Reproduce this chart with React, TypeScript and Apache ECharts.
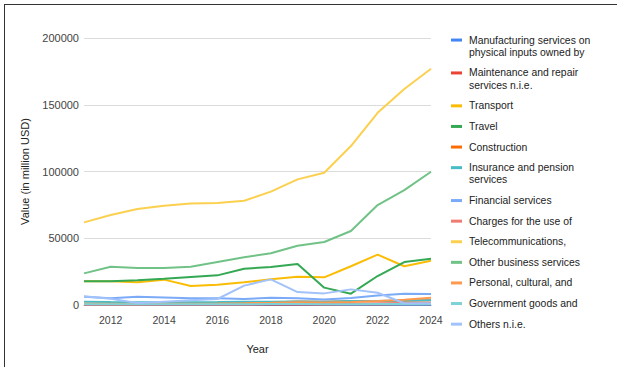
import React, { useEffect, useRef } from "react";
import * as echarts from "echarts";

const years = ["2011", "2012", "2013", "2014", "2015", "2016", "2017", "2018", "2019", "2020", "2021", "2022", "2023", "2024"];

const seriesNames = [
  "Manufacturing services on\nphysical inputs owned by",
  "Maintenance and repair\nservices n.i.e.",
  "Transport",
  "Travel",
  "Construction",
  "Insurance and pension\nservices",
  "Financial services",
  "Charges for the use of",
  "Telecommunications,",
  "Other business services",
  "Personal, cultural, and",
  "Government goods and",
  "Others n.i.e.",
];

const seriesColors = [
  "#4285F4", "#EA4335", "#FBBC04", "#34A853", "#FF6D01", "#46BDC6", "#7BAAF7",
  "#F07B72", "#FCD04F", "#71C287", "#FF994D", "#7ED1D7", "#A1C2FA",
];

const manufacturing = [200, 200, 200, 200, 200, 200, 200, 200, 200, 200, 200, 300, 300, 300];
const maintenance = [300, 300, 300, 300, 300, 300, 400, 400, 400, 400, 500, 600, 700, 800];
const transport = [17700, 17700, 17000, 19000, 14200, 15200, 17000, 19200, 21200, 20700, 29000, 37700, 29000, 33200];
const travel = [17700, 17700, 18500, 19700, 21000, 22200, 27200, 28500, 30700, 13000, 8500, 21700, 32200, 34700];
const construction = [800, 1000, 1100, 1200, 1300, 1300, 1500, 1800, 2600, 2400, 2800, 3000, 3200, 3500];
const insurance = [2500, 2200, 2100, 2000, 2100, 2200, 2400, 2500, 2600, 2400, 3000, 3000, 3300, 3500];
const financial = [6200, 5000, 6200, 5700, 5000, 5000, 4500, 5500, 5000, 4200, 5200, 7200, 8500, 8200];
const charges = [300, 300, 400, 500, 500, 500, 600, 800, 900, 1200, 1000, 1300, 1500, 1700];
const telecom = [61900, 67400, 71900, 74400, 76100, 76400, 78100, 84900, 94100, 99100, 119100, 144000, 161800, 177000];
const otherBusiness = [23700, 28700, 27700, 27700, 28700, 32200, 35700, 38700, 44400, 47200, 55400, 74900, 86100, 99800];
const personal = [1000, 900, 800, 900, 1000, 1100, 1300, 1600, 2000, 1800, 2300, 3000, 4000, 5500];
const government = [500, 500, 500, 600, 600, 600, 600, 700, 700, 600, 600, 700, 700, 800];
const others = [6500, 4700, 1500, 2500, 3500, 4500, 14500, 19200, 9700, 8700, 11700, 9200, 1300, 1300];

const seriesValues = [
  manufacturing, maintenance, transport, travel, construction, insurance, financial,
  charges, telecom, otherBusiness, personal, government, others,
];

const yTicks = { min: 0, max: 200000, interval: 50000 };

const FONT = "'Liberation Sans', Arial, sans-serif";

function buildLegend() {
  const elements: any[] = [];
  const lineH = 12.3;
  const gap = 8.3;
  let top = 33.9;
  seriesNames.forEach((name, i) => {
    const lines = name.split("\n").length;
    const cy = top + lineH / 2;
    elements.push({
      type: "rect",
      shape: { x: 451, y: cy - 1.5, width: 11, height: 3 },
      style: { fill: seriesColors[i] },
      silent: true,
    });
    elements.push({
      type: "text",
      x: 469,
      y: top,
      style: {
        text: name,
        fill: "#222",
        font: `10.4px ${FONT}`,
        lineHeight: lineH,
        verticalAlign: "top",
        align: "left",
      },
      silent: true,
    });
    top += lines * lineH + gap;
  });
  return elements;
}

export default function App() {
  const ref = useRef<HTMLDivElement>(null);

  useEffect(() => {
    if (!ref.current) return;
    const chart = echarts.init(ref.current, undefined, { renderer: "svg" });
    chart.setOption({
      animation: false,
      backgroundColor: "#fff",
      textStyle: { fontFamily: FONT },
      grid: { left: 84, right: 186, top: 38, bottom: 62, containLabel: false },
      xAxis: {
        type: "category",
        data: years,
        boundaryGap: false,
        name: "Year",
        nameLocation: "middle",
        nameGap: 38,
        nameTextStyle: { color: "#222", fontSize: 11, fontFamily: FONT },
        axisLine: { show: true, lineStyle: { color: "#999", width: 1 } },
        axisTick: { show: false },
        axisLabel: {
          color: "#444",
          fontSize: 10.5,
          fontFamily: FONT,
          margin: 9,
          interval: (index: number) => index % 2 === 1,
        },
        splitLine: { show: false },
      },
      yAxis: {
        type: "value",
        min: yTicks.min,
        max: yTicks.max,
        interval: yTicks.interval,
        name: "Value (in million USD)",
        nameLocation: "middle",
        nameGap: 54,
        nameRotate: 90,
        nameTextStyle: { color: "#222", fontSize: 11, fontFamily: FONT },
        axisLine: { show: false },
        axisTick: { show: false },
        axisLabel: {
          color: "#444",
          fontSize: 11,
          fontFamily: FONT,
          margin: 5,
          formatter: (v: number) => String(v),
        },
        splitLine: { show: true, lineStyle: { color: "#dcdcdc", width: 1 } },
      },
      series: seriesNames.map((name, i) => ({
        name,
        type: "line",
        data: seriesValues[i],
        showSymbol: false,
        symbol: "none",
        lineStyle: { color: seriesColors[i], width: 2 },
        itemStyle: { color: seriesColors[i] },
        z: 2 + i,
      })),
      graphic: buildLegend(),
    });
    return () => chart.dispose();
  }, []);

  return (
    <div style={{ position: "absolute", left: 0, top: 0, width: 617, height: 367, background: "#fff" }}>
      <div ref={ref} style={{ position: "absolute", left: 0, top: 0, width: 617, height: 367 }} />
      <div
        style={{
          position: "absolute",
          left: 4,
          top: 4,
          width: 613,
          height: 363,
          borderLeft: "1px solid #333",
          borderTop: "1px solid #333",
          pointerEvents: "none",
        }}
      />
    </div>
  );
}
